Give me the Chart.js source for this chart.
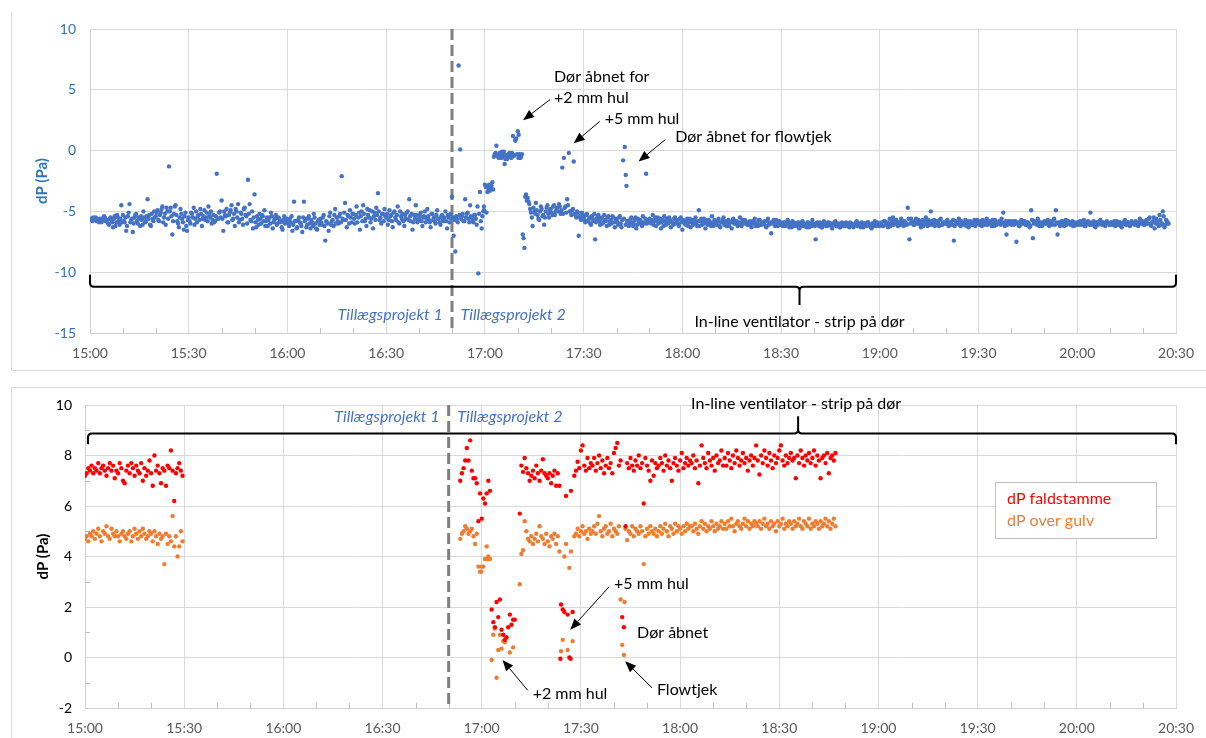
<!DOCTYPE html>
<html>
<head>
<meta charset="utf-8">
<script src="https://cdn.jsdelivr.net/npm/chart.js@4.4.1/dist/chart.umd.min.js"></script>
<style>
  body { margin: 0; background: #fff; width: 1206px; height: 738px; overflow: hidden; position: relative; }
  canvas { position: absolute; left: 0; }
  #topChart { top: 0; }
  #bottomChart { top: 375px; }
  .frame { position: absolute; border: 1px solid #d9d9d9; }
</style>
</head>
<body>
<div class="frame" style="left:11px; top:12px; width:1200px; height:358px; border-top:none; border-right:none;"></div>
<div class="frame" style="left:11px; top:387px; width:1200px; height:360px; border-right:none;"></div>
<canvas id="topChart" width="1206" height="372"></canvas>
<canvas id="bottomChart" width="1206" height="363"></canvas>
<script>
// x axis: minutes after 15:00, one label every 30 min
const timeLabels = ['15:00', '15:30', '16:00', '16:30', '17:00', '17:30', '18:00', '18:30', '19:00', '19:30', '20:00', '20:30'];

// Top chart - dP every 30 s from 15:00 (two interleaved reading sets)
const topStart = 0;
const topStartB = 0.25;
const topStep = 0.5;
const topValues = [
  -5.7,-5.6,-5.5,-5.6,-5.8,-5.7,-5.6,-5.9,-5.7,-5.5,-5.8,-6.0,-5.6,-5.7,-6.3,-5.4,-5.9,-5.5,-6.1,-4.5,
  -5.3,-5.9,-6.6,-5.4,-4.4,-5.7,-6.7,-5.5,-5.2,-6.0,-5.6,-5.4,-6.1,-5.5,-5.8,-4.0,-5.3,-6.2,-5.6,-5.0,
  -5.4,-4.9,-5.8,-5.1,-4.6,-5.5,-6.1,-5.0,-1.3,-4.7,-6.9,-5.2,-4.5,-5.8,-6.3,-4.8,-5.6,-6.5,-5.1,-6.6,
  -5.5,-6.0,-5.2,-4.7,-5.6,-5.9,-5.3,-4.8,-6.2,-5.4,-5.7,-5.1,-4.6,-5.5,-6.0,-5.3,-5.8,-1.9,-5.6,-5.0,
  -4.1,-6.6,-5.3,-4.8,-5.9,-5.1,-4.5,-5.6,-6.2,-5.0,-4.4,-5.7,-5.2,-6.1,-4.7,-5.4,-2.4,-4.4,-5.8,-6.4,
  -3.6,-6.3,-5.7,-5.2,-6.0,-5.4,-4.9,-5.8,-6.2,-5.5,-5.1,-6.4,-5.7,-5.3,-6.0,-5.6,-5.9,-6.5,-5.4,-5.8,
  -5.7,-6.2,-5.9,-6.6,-4.2,-5.8,-6.3,-5.5,-6.0,-6.7,-4.2,-5.6,-6.1,-5.4,-6.4,-5.9,-5.2,-6.0,-6.5,-5.7,
  -5.6,-6.1,-5.3,-7.4,-5.9,-6.6,-5.1,-5.8,-6.2,-4.8,-5.5,-6.0,-5.2,-2.1,-5.7,-4.3,-6.3,-5.4,-4.9,-5.9,
  -5.2,-6.0,-4.6,-5.5,-6.5,-5.0,-4.5,-5.8,-6.2,-5.3,-4.9,-5.6,-6.4,-5.1,-4.7,-3.5,-5.7,-6.0,-5.2,-4.8,
  -5.5,-6.1,-4.9,-5.3,-6.3,-5.0,-5.7,-4.6,-6.0,-5.4,-5.2,-6.2,-5.6,-5.0,-4.0,-5.8,-6.5,-5.3,-4.5,-5.9,
  -5.6,-5.1,-6.2,-5.4,-5.9,-4.8,-5.7,-6.3,-5.2,-5.5,-6.0,-4.9,-5.6,-6.1,-5.3,-5.8,-5.0,-6.4,-5.5,-5.2,
  -3.8,-7.0,-8.3,-5.6,7.0,0.1,-5.4,-5.8,-4.0,-5.2,-5.6,-4.5,-5.5,-5.9,-5.3,-6.1,-10.1,-3.4,-6.4,-5.0,
  -2.8,-5.1,-3.1,-3.3,-2.9,-3.2,-0.3,0.4,-0.5,-0.2,-0.6,-0.3,-1.1,-0.4,-0.5,-0.2,-0.6,1.2,-0.4,1.0,
  1.6,-0.3,-0.5,-6.9,-8.0,-3.6,-3.9,-4.4,-5.1,-6.2,-5.0,-4.3,-5.3,-5.7,-4.6,-5.4,-6.1,-5.0,-4.5,-5.5,
  -4.8,-5.3,-4.5,-5.0,-4.7,-4.4,-5.2,-1.4,-0.6,-4.6,-4.0,-0.2,-5.0,-4.9,-0.9,-5.3,-5.0,-7.0,-5.6,-5.1,
  -5.5,-5.9,-5.2,-5.7,-6.0,-5.4,-5.8,-7.3,-5.6,-5.3,-6.1,-5.5,-5.9,-5.7,-6.2,-5.4,-5.8,-6.0,-5.5,-6.3,
  -5.7,-6.1,-5.4,-6.3,-0.8,0.3,-2.9,-5.8,-6.0,-5.5,-6.2,-5.7,-6.4,-5.6,-5.9,-6.1,-5.4,-6.0,-1.9,-5.8,
  -5.6,-6.0,-5.3,-5.8,-6.2,-5.5,-5.9,-6.4,-5.7,-5.4,-6.1,-5.8,-5.5,-6.3,-5.9,-5.6,-6.0,-5.7,-6.2,-5.5,
  -6.5,-5.8,-6.1,-5.6,-5.9,-6.3,-5.7,-6.0,-5.5,-6.2,-4.9,-5.8,-6.1,-5.6,-6.4,-5.9,-5.7,-6.0,-5.4,-6.2,
  -5.8,-6.1,-5.6,-6.3,-5.9,-5.5,-6.0,-6.2,-5.7,-5.9,-6.4,-5.6,-6.0,-5.8,-6.1,-5.5,-6.2,-5.9,-5.7,-6.0,
  -6.1,-5.8,-6.3,-5.9,-5.6,-6.0,-6.2,-5.7,-6.1,-5.9,-5.8,-6.3,-5.6,-6.0,-6.8,-5.9,-6.1,-5.7,-6.2,-5.8,
  -6.0,-6.2,-5.9,-6.1,-5.7,-6.3,-6.0,-5.8,-6.2,-6.1,-5.9,-6.4,-6.0,-5.8,-6.2,-6.1,-5.9,-6.3,-6.0,-5.7,
  -6.1,-7.3,-5.9,-6.2,-6.0,-6.3,-5.8,-6.1,-6.2,-5.9,-6.0,-6.4,-6.1,-5.8,-6.2,-6.0,-6.3,-5.9,-6.1,-6.2,
  -6.0,-6.2,-5.9,-6.1,-6.3,-6.0,-5.8,-6.2,-6.1,-5.9,-6.3,-6.0,-6.2,-5.9,-6.1,-6.4,-6.0,-5.8,-6.2,-6.1,
  -6.1,-5.9,-6.2,-5.8,-6.0,-6.3,-5.6,-6.1,-5.5,-6.0,-5.7,-6.2,-5.9,-5.6,-6.1,-5.8,-6.0,-4.7,-7.3,-5.6,
  -5.9,-6.1,-5.6,-6.0,-5.8,-6.3,-5.7,-6.0,-5.5,-6.2,-5.9,-5.0,-6.1,-5.7,-6.0,-5.8,-6.2,-5.6,-6.1,-5.9,
  -6.0,-5.7,-6.2,-5.9,-6.1,-7.4,-5.8,-6.0,-5.6,-6.2,-5.9,-6.1,-5.7,-6.0,-6.3,-5.8,-6.1,-5.9,-6.2,-5.7,
  -6.0,-5.8,-6.2,-5.9,-6.1,-5.6,-6.0,-5.8,-6.2,-5.9,-5.7,-6.1,-5.9,-6.0,-5.6,-5.1,-6.2,-6.9,-5.8,-6.0,
  -6.1,-5.8,-6.0,-7.5,-5.9,-6.2,-5.7,-6.0,-5.8,-6.1,-5.9,-6.3,-4.9,-7.2,-5.8,-6.0,-5.6,-6.2,-5.9,-6.1,
  -5.8,-6.0,-5.7,-6.2,-5.9,-6.1,-5.6,-4.9,-6.9,-5.9,-6.0,-5.8,-6.2,-5.7,-6.0,-5.9,-6.1,-5.8,-6.2,-6.0,
  -5.9,-6.1,-5.8,-6.0,-5.7,-6.2,-5.9,-6.0,-5.1,-6.1,-5.8,-6.3,-5.9,-6.0,-5.7,-6.1,-5.9,-6.2,-5.8,-6.0,
  -6.1,-5.9,-6.0,-6.2,-5.8,-6.1,-5.9,-6.3,-6.0,-5.7,-6.1,-5.9,-6.2,-5.8,-6.0,-6.1,-5.9,-6.2,-5.6,-6.0,
  -5.9,-6.1,-5.7,-6.0,-5.5,-6.2,-5.8,-6.4,-5.6,-6.0,-5.3,-6.1,-5.0,-6.3,-5.7,-6.0
];
const topValuesB = [
  -5.6,-5.8,-5.7,-5.5,-5.6,-5.9,-5.8,-5.6,-5.4,-5.8,-5.7,-6.1,-5.5,-5.9,-5.6,-6.2,-5.3,-5.8,-5.6,-5.9,
  -5.8,-5.5,-6.2,-5.1,-5.9,-5.6,-6.0,-5.3,-5.8,-5.5,-6.2,-5.7,-5.0,-5.9,-5.4,-5.6,-6.1,-5.2,-5.8,-5.5,
  -5.1,-5.7,-5.3,-4.8,-5.9,-5.2,-4.7,-5.6,-5.0,-5.4,-5.8,-4.6,-5.3,-6.0,-5.5,-5.2,-5.9,-5.4,-6.2,-5.7,
  -5.8,-5.1,-5.5,-6.1,-5.0,-5.4,-5.7,-5.2,-5.6,-4.9,-5.5,-5.8,-5.3,-5.0,-5.7,-5.9,-5.4,-5.6,-5.1,-5.5,
  -5.6,-5.0,-5.4,-5.9,-5.3,-4.9,-5.7,-5.2,-4.8,-5.5,-5.9,-5.1,-5.6,-4.8,-5.3,-6.0,-5.2,-5.7,-5.0,-5.5,
  -5.9,-5.4,-6.1,-5.6,-5.3,-5.8,-6.2,-5.5,-5.7,-6.0,-5.4,-5.9,-5.6,-6.1,-5.5,-5.8,-6.3,-5.7,-6.0,-5.6,
  -6.0,-5.6,-5.4,-6.1,-5.8,-6.4,-5.7,-5.9,-6.2,-5.5,-5.8,-6.3,-5.6,-6.0,-5.7,-6.2,-5.5,-6.4,-5.8,-6.1,
  -5.9,-5.5,-6.2,-5.8,-6.0,-5.4,-6.1,-5.7,-5.3,-6.0,-5.8,-5.4,-5.9,-5.6,-5.1,-5.7,-5.3,-6.0,-5.5,-5.2,
  -5.6,-5.3,-5.9,-5.1,-5.4,-5.8,-5.2,-5.6,-4.8,-5.5,-5.9,-5.0,-5.4,-5.7,-5.3,-5.0,-5.5,-5.2,-5.8,-5.4,
  -5.2,-5.7,-5.4,-5.8,-5.1,-5.5,-5.3,-5.9,-5.0,-5.6,-5.8,-5.3,-5.1,-5.7,-5.4,-5.2,-5.9,-5.6,-5.3,-5.7,
  -5.3,-5.8,-5.5,-5.0,-5.6,-5.4,-5.9,-5.2,-5.7,-5.8,-5.3,-5.6,-5.9,-5.4,-5.7,-5.5,-5.8,-5.3,-5.9,-5.6,
  -5.5,-5.7,-5.4,-5.9,-5.3,-5.6,-5.2,-5.8,-5.5,-5.1,-5.9,-5.4,-5.7,-5.3,-5.6,-4.6,-5.2,-5.8,-5.4,-4.9,
  -3.0,-3.4,-2.8,-3.1,-2.6,-0.5,-0.2,-0.4,-0.6,-0.3,-0.5,-0.1,-0.4,-0.7,-0.3,-0.5,-0.2,-0.4,0.8,-0.3,
  1.3,-0.6,-0.3,-7.2,-3.8,-4.1,-4.2,-4.8,-5.5,-4.7,-5.2,-4.9,-5.6,-5.0,-4.8,-5.3,-5.5,-4.7,-5.2,-4.9,
  -5.1,-4.6,-5.3,-4.8,-5.0,-4.6,-4.9,-5.2,-4.7,-5.1,-4.5,-5.0,-5.3,-4.8,-5.2,-5.5,-5.1,-5.4,-5.7,-5.3,
  -5.7,-5.3,-5.8,-5.5,-6.1,-5.6,-5.2,-5.9,-5.4,-5.8,-5.6,-6.0,-5.3,-5.8,-5.5,-6.1,-5.7,-5.4,-5.9,-5.6,
  -5.9,-5.5,-6.0,-5.7,-5.6,-6.1,-5.8,-6.2,-5.6,-5.9,-6.0,-5.5,-6.1,-5.8,-5.7,-6.2,-5.9,-5.6,-6.0,-5.7,
  -5.9,-5.7,-6.1,-5.5,-5.8,-6.0,-5.6,-5.9,-6.2,-5.8,-5.6,-6.0,-5.7,-5.9,-6.1,-5.5,-5.8,-6.0,-5.6,-5.9,
  -5.7,-6.0,-5.8,-6.2,-5.6,-5.9,-6.1,-5.7,-6.0,-5.8,-6.2,-5.6,-5.9,-6.0,-5.7,-6.1,-5.8,-6.2,-5.9,-5.7,
  -6.0,-5.8,-6.2,-5.9,-5.7,-6.1,-5.8,-6.0,-6.2,-5.9,-5.7,-6.0,-5.8,-6.2,-5.9,-6.1,-5.7,-6.0,-5.8,-6.1,
  -5.9,-6.1,-5.8,-6.0,-6.2,-5.9,-5.7,-6.1,-5.9,-6.0,-6.2,-5.8,-6.1,-5.9,-6.0,-5.7,-6.2,-6.0,-5.8,-6.1,
  -6.1,-5.9,-6.2,-6.0,-5.8,-6.1,-6.3,-5.9,-6.0,-6.2,-6.1,-5.9,-6.2,-6.0,-6.1,-6.3,-5.9,-6.1,-6.2,-6.0,
  -6.2,-6.0,-6.1,-5.9,-6.3,-6.1,-6.0,-6.2,-5.9,-6.1,-6.2,-6.0,-5.9,-6.2,-6.1,-6.3,-6.0,-6.2,-6.0,-5.9,
  -6.1,-6.3,-6.0,-6.2,-6.1,-5.9,-6.2,-6.0,-6.3,-6.1,-6.0,-6.2,-5.9,-6.1,-6.3,-6.0,-6.2,-6.1,-5.9,-6.2,
  -6.0,-6.2,-5.8,-6.1,-5.9,-6.0,-6.2,-5.8,-6.1,-5.7,-6.0,-5.9,-6.1,-5.8,-6.2,-5.9,-6.1,-5.6,-6.0,-5.8,
  -6.1,-5.8,-6.0,-5.7,-6.1,-5.9,-6.2,-5.8,-6.0,-5.7,-6.1,-5.8,-5.9,-6.2,-5.8,-6.0,-5.7,-6.1,-5.9,-6.0,
  -5.8,-6.1,-5.9,-6.0,-5.7,-6.2,-6.0,-5.9,-6.1,-5.8,-6.0,-5.9,-6.2,-5.8,-6.0,-5.9,-6.1,-5.7,-6.0,-5.9,
  -6.1,-5.9,-5.7,-6.0,-5.8,-6.1,-5.9,-6.0,-5.7,-6.2,-5.9,-6.0,-5.8,-6.1,-5.9,-6.0,-5.8,-6.1,-6.0,-5.8,
  -5.9,-6.1,-5.8,-6.0,-6.2,-5.9,-6.0,-5.8,-6.1,-5.9,-6.0,-6.2,-5.7,-6.0,-5.9,-6.1,-5.8,-6.0,-6.2,-5.9,
  -6.0,-5.9,-6.1,-5.8,-6.0,-5.7,-6.1,-5.9,-6.0,-6.2,-5.8,-6.0,-5.9,-6.1,-5.8,-6.0,-5.9,-6.2,-5.9,-6.1,
  -6.0,-5.8,-6.1,-5.9,-6.2,-6.0,-5.8,-6.1,-5.9,-6.0,-6.2,-5.9,-6.1,-5.8,-6.0,-5.9,-6.1,-6.0,-5.9,-6.1,
  -5.9,-6.1,-5.8,-6.0,-6.1,-5.9,-6.2,-6.0,-5.8,-6.1,-5.9,-6.0,-6.1,-5.9,-6.0,-5.8,-6.1,-5.9,-6.0,-5.8,
  -6.1,-5.8,-6.0,-5.6,-6.1,-5.9,-5.5,-6.0,-5.8,-6.2,-5.7,-6.0,-5.4,-6.1,-5.8,-6.0
];
// readings in between the regular samples
const topExtraTimes = [119.7, 121.2, 124.2, 125.2, 126.2, 127.2, 128.2, 129.2, 130.2, 162.8];
const topExtraValues = [-4.6, -3.0, -0.4, -0.1, -0.7, -0.3, -0.5, 0.9, -0.6, -2.0];

// Bottom chart - two runs: 15:00-15:30 and 16:53-18:47, every 30 s
const runStartA = 0;
const runStartB = 113.5;
const runStep = 0.5;
const faldA = [
  7.2,7.3,7.5,7.4,7.6,7.3,7.5,7.4,7.7,7.3,7.5,7.6,7.4,7.2,7.5,7.7,7.4,7.6,7.1,7.4,
  7.3,7.7,7.5,7.0,6.9,7.4,7.6,7.3,7.7,7.5,7.2,7.6,7.4,7.3,7.7,7.0,7.5,7.2,7.4,7.8,
  7.3,6.8,8.0,7.4,7.6,7.3,6.9,7.5,7.4,6.8,7.6,7.5,8.2,7.4,6.2,7.3,7.5,7.7,7.4,7.2
];
const faldB = [
  7.0,7.3,7.5,7.8,8.3,7.8,8.6,7.4,7.1,7.1,6.9,5.4,6.5,5.5,6.3,6.1,6.5,7.0,6.6,1.9,
  1.4,1.2,2.2,1.6,2.3,1.1,0.9,0.7,0.8,1.2,1.7,1.3,1.5,1.5,null,null,5.7,7.6,7.35,7.9,
  7.5,7.3,7.0,7.2,7.4,7.1,7.6,7.3,7.0,7.4,7.85,7.3,7.2,7.1,7.3,6.9,7.2,7.4,6.8,7.3,
  6.8,2.1,1.9,1.8,6.4,1.7,0.0,6.6,1.8,7.2,7.4,7.75,7.5,8.2,8.4,7.6,7.4,7.9,7.5,7.7,
  7.6,7.9,7.4,7.7,8.0,7.5,7.8,7.3,7.6,7.9,7.5,7.7,7.3,8.1,8.3,8.5,7.6,7.8,1.6,1.2,
  5.2,7.7,7.5,7.9,7.6,7.4,7.8,7.6,8.0,7.5,7.7,6.1,7.9,7.6,7.4,7.0,7.8,7.2,7.7,7.5,
  7.6,7.9,7.7,7.4,8.0,7.6,7.8,7.5,7.0,7.7,7.9,7.6,7.4,7.8,8.1,7.5,7.7,7.9,7.6,7.8,
  7.7,8.0,7.5,7.8,6.9,7.6,8.4,7.9,7.7,7.5,8.1,7.8,7.6,7.9,7.4,8.0,7.7,7.8,8.2,7.6,
  7.9,7.6,8.1,7.8,7.5,8.0,7.7,8.2,7.9,7.6,7.8,8.1,7.7,7.9,7.4,7.8,8.0,7.6,7.9,8.4,
  7.8,7.25,8.0,7.7,8.2,7.9,7.6,8.1,7.8,7.5,8.0,7.7,7.9,8.2,8.4,7.8,7.6,8.0,7.7,7.9,
  8.1,7.8,7.9,7.1,8.0,7.7,8.2,7.9,7.6,8.0,7.8,8.1,7.7,7.9,8.2,7.6,8.0,7.8,7.1,7.9,
  8.0,7.7,8.1,7.3,7.9,8.0,7.8,8.1
];
const gulvA = [
  4.7,4.8,4.6,4.9,4.8,5.0,4.7,4.9,5.1,4.8,4.6,5.0,4.9,5.2,4.8,4.7,5.1,4.9,4.8,5.0,
  4.8,4.6,4.9,5.0,4.8,4.7,4.9,5.0,4.6,4.8,5.1,4.9,4.7,5.0,4.8,5.1,4.9,4.7,4.8,5.0,
  4.9,4.6,5.0,4.8,4.5,4.9,4.7,4.8,3.7,4.9,4.5,4.8,4.6,5.6,4.4,4.8,4.0,4.4,5.0,4.6
];
const gulvB = [
  4.7,4.9,5.0,5.2,5.1,4.9,5.0,5.1,4.8,4.5,4.9,3.6,3.4,3.6,3.6,3.9,4.4,4.0,3.9,-0.1,
  0.9,1.15,-0.8,0.3,0.9,0.35,0.65,0.6,null,null,0.2,null,0.4,null,null,null,2.9,4.1,4.25,5.4,
  5.0,4.7,4.6,4.8,4.5,4.7,4.9,4.6,5.2,4.8,4.7,4.5,4.9,4.6,4.4,4.8,4.7,4.9,4.5,4.8,
  4.2,0.25,0.7,4.0,4.5,0.3,3.55,4.2,0.65,4.8,4.9,5.1,4.8,5.0,5.2,4.9,5.0,4.7,5.1,4.9,
  5.0,5.2,4.9,5.3,5.6,5.0,4.8,5.1,5.2,4.9,5.0,5.3,4.8,5.1,5.0,4.9,5.2,2.3,0.5,0.1,
  5.1,4.65,5.0,4.9,5.2,4.8,5.1,5.0,4.9,5.2,5.0,3.7,4.8,5.1,4.9,5.2,5.0,4.9,5.1,4.8,
  5.0,5.2,4.9,5.1,5.3,5.0,4.8,5.2,5.1,4.9,5.3,5.0,5.2,5.1,4.9,5.2,5.0,5.3,5.1,5.2,
  5.2,5.0,5.3,5.1,4.9,5.2,5.4,5.1,5.3,5.0,5.2,5.1,5.4,5.2,5.0,5.3,5.1,5.2,5.4,5.1,
  5.3,5.1,5.4,5.2,5.5,5.2,5.0,5.3,5.4,5.2,5.1,5.3,5.5,5.2,5.4,5.1,5.3,5.2,5.4,5.3,
  5.2,5.4,5.1,5.3,5.5,5.2,5.3,5.1,5.4,5.2,5.3,5.0,5.4,5.2,5.3,5.5,5.1,5.3,5.2,5.4,
  5.3,5.1,5.4,5.2,5.3,5.5,5.2,5.1,5.4,5.3,5.2,5.5,5.1,5.3,5.2,5.4,5.3,5.1,5.4,5.2,
  5.3,5.5,5.2,5.4,5.1,5.3,5.5,5.2
];
const faldExtraTimes = [143.8, 146.9];
const faldExtraValues = [-0.05, -0.05];
const gulvExtraTimes = [119.9, 121.8, 163.2];
const gulvExtraValues = [3.4, 3.9, 2.2];

const FONT = 'Lato, "Liberation Sans", sans-serif';

function samples(start, step, values) {
  return values.map((v, i) => ({ x: start + i * step, y: v }));
}
function pairs(times, values) {
  return times.map((t, i) => ({ x: t, y: values[i] }));
}

function drawArrow(ctx, x1, y1, x2, y2) {
  const ang = Math.atan2(y2 - y1, x2 - x1), h = 11, w = 4.5;
  const bx = x2 - h * Math.cos(ang), by = y2 - h * Math.sin(ang);
  ctx.beginPath(); ctx.moveTo(x1, y1); ctx.lineTo(bx, by); ctx.stroke();
  ctx.beginPath();
  ctx.moveTo(x2, y2);
  ctx.lineTo(bx + w * Math.sin(ang), by - w * Math.cos(ang));
  ctx.lineTo(bx - w * Math.sin(ang), by + w * Math.cos(ang));
  ctx.closePath(); ctx.fill();
}

function drawBracket(ctx, x, y, b) {
  const xl = x.getPixelForValue(b.from), xr = x.getPixelForValue(b.to), xm = x.getPixelForValue(b.mid);
  const yb = y.getPixelForValue(b.at), ye = y.getPixelForValue(b.ends), yt = y.getPixelForValue(b.tip);
  const r = 4, se = Math.sign(ye - yb), st = Math.sign(yt - yb);
  ctx.beginPath();
  ctx.moveTo(xl, ye);
  ctx.lineTo(xl, yb + se * r);
  ctx.quadraticCurveTo(xl, yb, xl + r, yb);
  ctx.lineTo(xm - r, yb);
  ctx.quadraticCurveTo(xm, yb, xm, yb + st * r);
  ctx.lineTo(xm, yt);
  ctx.moveTo(xm, yb + st * r);
  ctx.quadraticCurveTo(xm, yb, xm + r, yb);
  ctx.lineTo(xr - r, yb);
  ctx.quadraticCurveTo(xr, yb, xr, yb + se * r);
  ctx.lineTo(xr, ye);
  ctx.stroke();
}

// minor ticks, divider, bracket, notes and legend
const overlay = {
  id: 'overlay',
  beforeDatasetsDraw(chart) {
    const o = chart.options.plugins.overlay;
    const { ctx, chartArea: a, scales: { x, y } } = chart;
    ctx.save();
    ctx.strokeStyle = '#bfbfbf';
    ctx.lineWidth = 1;
    ctx.beginPath();
    for (let m = 10; m < 330; m += 10) {
      if (m % 30 === 0) continue;
      const px = Math.round(x.getPixelForValue(m)) + 0.5;
      ctx.moveTo(px, a.bottom); ctx.lineTo(px, a.bottom - 5);
    }
    (o.minorY || []).forEach(v => {
      const py = Math.round(y.getPixelForValue(v)) + 0.5;
      ctx.moveTo(a.left, py); ctx.lineTo(a.left + 5, py);
    });
    ctx.stroke();
    const dx = x.getPixelForValue(o.divider);
    ctx.strokeStyle = '#7f7f7f';
    ctx.lineWidth = 3;
    ctx.setLineDash([11, 5]);
    ctx.beginPath(); ctx.moveTo(dx, a.top); ctx.lineTo(dx, a.bottom); ctx.stroke();
    ctx.restore();
  },
  afterDatasetsDraw(chart) {
    const o = chart.options.plugins.overlay;
    const { ctx, scales: { x, y } } = chart;
    ctx.save();
    ctx.strokeStyle = '#000';
    ctx.fillStyle = '#000';
    ctx.lineWidth = 2;
    drawBracket(ctx, x, y, o.bracket);
    ctx.lineWidth = 1;
    o.arrows.forEach(a => drawArrow(ctx, x.getPixelForValue(a[0]), y.getPixelForValue(a[1]), x.getPixelForValue(a[2]), y.getPixelForValue(a[3])));
    ctx.textBaseline = 'middle';
    o.notes.forEach(n => {
      ctx.font = (n.italic ? 'italic ' : '') + n.size + 'px ' + FONT;
      ctx.fillStyle = n.color || '#000';
      ctx.textAlign = n.align || 'left';
      ctx.fillText(n.text, x.getPixelForValue(n.t), y.getPixelForValue(n.v));
    });
    if (o.legend) {
      const L = o.legend;
      const lx = x.getPixelForValue(L.from), rx = x.getPixelForValue(L.to);
      const ty = y.getPixelForValue(L.top), by = y.getPixelForValue(L.bottom);
      ctx.fillStyle = '#fff';
      ctx.fillRect(lx, ty, rx - lx, by - ty);
      ctx.strokeStyle = '#bfbfbf';
      ctx.strokeRect(Math.round(lx) + 0.5, Math.round(ty) + 0.5, Math.round(rx - lx), Math.round(by - ty));
      ctx.font = '16px ' + FONT;
      ctx.textAlign = 'left';
      chart.data.datasets.forEach((ds, i) => {
        ctx.fillStyle = ds.backgroundColor;
        ctx.fillText(ds.label, x.getPixelForValue(L.textAt), y.getPixelForValue(L.rows[i]));
      });
    }
    ctx.restore();
  }
};

function xAxis(height) {
  return {
    type: 'linear', min: 0, max: 330,
    afterFit: s => { s.height = height; },
    ticks: { stepSize: 30, padding: 12, color: '#595959', font: { family: FONT, size: 14 }, callback: v => timeLabels[v / 30] },
    grid: { color: '#d9d9d9', drawTicks: false },
    border: { color: '#d0d0d0' }
  };
}

new Chart(document.getElementById('topChart'), {
  type: 'scatter',
  data: {
    datasets: [{
      label: 'dP',
      data: samples(topStart, topStep, topValues).concat(samples(topStartB, topStep, topValuesB), pairs(topExtraTimes, topExtraValues)),
      backgroundColor: '#4472c4',
      pointRadius: 2.2,
      borderWidth: 0,
      pointHoverRadius: 2.2
    }]
  },
  options: {
    responsive: false,
    animation: false,
    events: [],
    layout: { padding: { left: 0, right: 24, top: 29, bottom: 0 } },
    plugins: {
      legend: { display: false },
      tooltip: { enabled: false },
      overlay: {
        divider: 110,
        bracket: { from: 0, to: 330, mid: 215.6, at: -11.2, ends: -10.2, tip: -12.7 },
        arrows: [[139.8, 4.2, 131.6, 2.5], [154.9, 2.4, 147.0, 0.6], [174.8, 0.9, 166.7, -0.9]],
        notes: [
          { text: 'Dør åbnet for', t: 141.0, v: 6.1, size: 16 },
          { text: '+2 mm hul', t: 141.0, v: 4.3, size: 16 },
          { text: '+5 mm hul', t: 156.4, v: 2.6, size: 16 },
          { text: 'Dør åbnet for flowtjek', t: 177.8, v: 1.1, size: 16 },
          { text: 'Tillægsprojekt 1', t: 107.2, v: -13.5, size: 16, italic: true, color: '#4472c4', align: 'right' },
          { text: 'Tillægsprojekt 2', t: 112.6, v: -13.5, size: 16, italic: true, color: '#4472c4' },
          { text: 'In-line ventilator - strip på dør', t: 215.6, v: -14.1, size: 16, align: 'center' }
        ]
      }
    },
    scales: {
      x: xAxis(39),
      y: {
        min: -15, max: 10,
        afterFit: s => { s.width = 90; },
        ticks: { stepSize: 5, padding: 14, color: '#2e75b6', font: { family: FONT, size: 14 } },
        grid: { color: '#d9d9d9', drawTicks: false },
        border: { color: '#d0d0d0' },
        title: { display: true, text: 'dP (Pa)', color: '#2e75b6', font: { family: FONT, size: 15, weight: 'bold' }, padding: { top: 33, bottom: 0 } }
      }
    }
  },
  plugins: [overlay]
});

new Chart(document.getElementById('bottomChart'), {
  type: 'scatter',
  data: {
    datasets: [{
      label: 'dP faldstamme',
      data: samples(runStartA, runStep, faldA).concat(samples(runStartB, runStep, faldB), pairs(faldExtraTimes, faldExtraValues)),
      backgroundColor: '#ff0000',
      pointRadius: 2.2,
      borderWidth: 0,
      pointHoverRadius: 2.2
    }, {
      label: 'dP over gulv',
      data: samples(runStartA, runStep, gulvA).concat(samples(runStartB, runStep, gulvB), pairs(gulvExtraTimes, gulvExtraValues)),
      backgroundColor: '#ed7d31',
      pointRadius: 2.2,
      borderWidth: 0,
      pointHoverRadius: 2.2
    }]
  },
  options: {
    responsive: false,
    animation: false,
    events: [],
    layout: { padding: { left: 0, right: 24, top: 30, bottom: 0 } },
    plugins: {
      legend: { display: false },
      tooltip: { enabled: false },
      overlay: {
        divider: 110,
        minorY: [-1, 1, 3, 5, 7, 9],
        bracket: { from: 0.9, to: 330, mid: 215.7, at: 8.87, ends: 8.45, tip: 9.55 },
        arrows: [[158.5, 2.8, 146.8, 1.1], [133.9, -1.3, 126.3, -0.1], [171.5, -1.2, 163.4, -0.15]],
        notes: [
          { text: 'Tillægsprojekt 1', t: 107.2, v: 9.55, size: 16, italic: true, color: '#4472c4', align: 'right' },
          { text: 'Tillægsprojekt 2', t: 112.6, v: 9.55, size: 16, italic: true, color: '#4472c4' },
          { text: 'In-line ventilator - strip på dør', t: 215.1, v: 10.06, size: 16, align: 'center' },
          { text: '+5 mm hul', t: 160.0, v: 2.93, size: 16 },
          { text: 'Dør åbnet', t: 167.0, v: 0.99, size: 16 },
          { text: '+2 mm hul', t: 135.4, v: -1.43, size: 16 },
          { text: 'Flowtjek', t: 173.0, v: -1.27, size: 16 }
        ],
        legend: { from: 275.3, to: 324.0, top: 6.97, bottom: 4.75, textAt: 278.9, rows: [6.3, 5.43] }
      }
    },
    scales: {
      x: xAxis(30),
      y: {
        min: -2, max: 10,
        afterFit: s => { s.width = 85; },
        ticks: { stepSize: 2, padding: 13, color: '#000', font: { family: FONT, size: 14 } },
        grid: { color: '#d9d9d9', drawTicks: false },
        border: { color: '#d0d0d0' },
        title: { display: true, text: 'dP (Pa)', color: '#000', font: { family: FONT, size: 15, weight: 'bold' }, padding: { top: 34, bottom: 0 } }
      }
    }
  },
  plugins: [overlay]
});
</script>
</body>
</html>
